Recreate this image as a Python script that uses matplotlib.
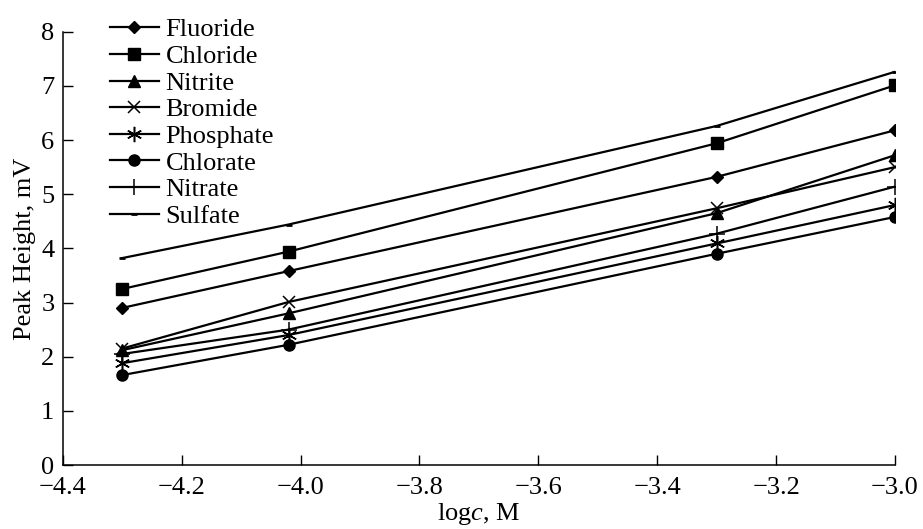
import matplotlib
matplotlib.use("Agg")
import matplotlib.pyplot as plt
from matplotlib.ticker import FixedLocator, FuncFormatter

plt.rcParams['font.family'] = ['Liberation Serif', 'DejaVu Serif']
plt.rcParams['mathtext.fontset'] = 'custom'
plt.rcParams['mathtext.rm'] = 'Liberation Serif'
plt.rcParams['mathtext.it'] = 'Liberation Serif:italic'

# ---- data ----
log_c = [-4.30, -4.02, -3.30, -3.00]
fluoride = [2.90, 3.58, 5.32, 6.18]
chloride = [3.25, 3.94, 5.94, 7.01]
nitrite = [2.12, 2.80, 4.65, 5.72]
bromide = [2.15, 3.01, 4.74, 5.50]
phosphate = [1.88, 2.40, 4.09, 4.80]
chlorate = [1.66, 2.22, 3.90, 4.58]
nitrate = [2.05, 2.50, 4.27, 5.14]
sulfate = [3.82, 4.44, 6.26, 7.26]

labels = ["Fluoride", "Chloride", "Nitrite", "Bromide", "Phosphate",
          "Chlorate", "Nitrate", "Sulfate"]
series = [fluoride, chloride, nitrite, bromide, phosphate, chlorate, nitrate, sulfate]
x_ticks = [-4.4, -4.2, -4.0, -3.8, -3.6, -3.4, -3.2, -3.0]
y_ticks = [0, 1, 2, 3, 4, 5, 6, 7, 8]

styles = [
    dict(marker='D', ms=6.0, mew=1.0),
    dict(marker='s', ms=8.5, mew=1.0),
    dict(marker='^', ms=8.0, mew=1.0),
    dict(marker='x', ms=9.0, mew=1.1),
    dict(marker=(6, 2, 0), ms=11.0, mew=1.1),
    dict(marker='o', ms=8.0, mew=1.0),
    dict(marker='+', ms=12.0, mew=1.1),
    dict(marker='_', ms=5.0, mew=2.0),
]

fig = plt.figure(figsize=(9.23, 5.29), dpi=100)
ax = fig.add_axes([62.7 / 923, 64 / 529, (895 - 62.7) / 923, (465 - 31.7) / 529])

for lab, ys, st in zip(labels, series, styles):
    ax.plot(log_c, ys, color='black', lw=1.6, label=lab,
            mfc='black', mec='black', **st)

ax.set_xlim(-4.4, -3.0)
ax.set_ylim(0, 8)
ax.xaxis.set_major_locator(FixedLocator(x_ticks))
ax.yaxis.set_major_locator(FixedLocator(y_ticks))
ax.xaxis.set_major_formatter(FuncFormatter(lambda v, p: f"{v:.1f}".replace('-', '\u2212')))
ax.yaxis.set_major_formatter(FuncFormatter(lambda v, p: f"{int(round(v))}"))
ax.tick_params(direction='in', length=7, width=1.0, labelsize=19, colors='black')
ax.tick_params(axis='x', pad=9)
ax.tick_params(axis='y', pad=6)

for s in ['top', 'right']:
    ax.spines[s].set_visible(False)
for s in ['left', 'bottom']:
    ax.spines[s].set_linewidth(1.1)

ax.set_xlabel("log$c$, M", fontsize=19, labelpad=1)
ax.set_ylabel("Peak Height, mV", fontsize=19, labelpad=4)

leg = fig.legend(loc='upper left', bbox_to_anchor=(110 / 923, 1 - 18 / 529),
                 frameon=False, fontsize=19, handlelength=1.85, handletextpad=0.25,
                 labelspacing=0.12, borderpad=0, borderaxespad=0)

fig.savefig("out.png", dpi=100)
